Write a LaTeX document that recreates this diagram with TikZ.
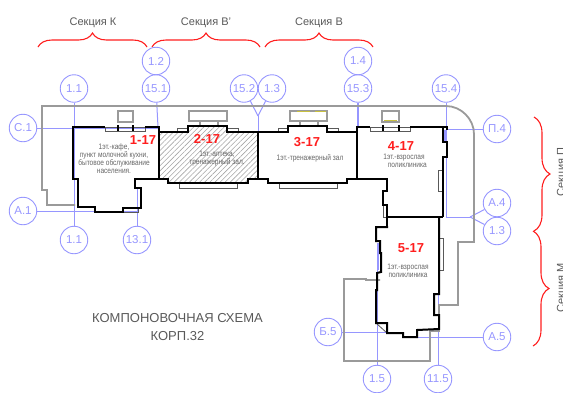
\documentclass[tikz,border=0pt]{standalone}
\usepackage{fontspec}
\setmainfont{Liberation Sans}
\usepackage{xcolor}
\usetikzlibrary{decorations.pathreplacing,patterns.meta}
\definecolor{axisblue}{HTML}{9696FF}
\definecolor{planred}{HTML}{FF1E1E}
\definecolor{plangray}{HTML}{9A9A9A}
\definecolor{roofolive}{HTML}{C8C040}

\begin{document}
\begin{tikzpicture}[
  x=1pt, y=-1pt,
  axis/.style={circle, draw=axisblue, line width=0.9pt, minimum size=27.5pt, inner sep=0pt,
               text=axisblue, font=\fontsize{11.5}{11.5}\selectfont},
  axisline/.style={draw=axisblue, line width=1pt},
  plot/.style={draw=plangray, line width=1.8pt},
  wall/.style={draw=black, line width=2pt},
  sill/.style={draw=black!65, line width=0.8pt},
  roof/.style={draw=plangray, line width=1.6pt},
  room/.style={text=planred, font=\fontsize{13}{13}\selectfont\bfseries},
  use/.style={text=black!60, align=center, xscale=0.82, transform shape,
              font=\fontsize{8}{8}\selectfont},
  section/.style={text=black!65, font=\fontsize{11}{11}\selectfont},
  sectionbrace/.style={draw=planred, line width=1.1pt, decorate}
]
\useasboundingbox (0,0) rectangle (563,392);

% Section braces and captions
\draw[sectionbrace, decoration={brace, amplitude=14pt}] (38,47) -- (147,47);
\draw[sectionbrace, decoration={brace, amplitude=14pt}] (152,47) -- (260,47);
\draw[sectionbrace, decoration={brace, amplitude=14pt}] (265,47) -- (373,47);
\draw[sectionbrace, decoration={brace, amplitude=16pt}] (534,117) -- (534,231);
\draw[sectionbrace, decoration={brace, amplitude=16pt}] (533,231) -- (533,346);
\node[section] (secK) at (93,23) {Секция К};
\node[section] (secW) at (206,23) {Секция В'};
\node[section] (secV) at (319,23) {Секция В};
\node[section, rotate=90] (secP) at (562,172) {Секция П};
\node[section, rotate=90] (secM) at (562,288) {Секция М};

% Axis bubbles
\node[axis] (c11a) at (74,88.5) {1.1};
\node[axis] (c12) at (156,61) {1.2};
\node[axis] (c151) at (156,88.5) {15.1};
\node[axis] (c152) at (244,88.5) {15.2};
\node[axis] (c13a) at (272,88.5) {1.3};
\node[axis] (c14) at (358,61) {1.4};
\node[axis] (c153) at (358,88.5) {15.3};
\node[axis] (c154) at (446,88.5) {15.4};
\node[axis] (cC1) at (23,128) {С.1};
\node[axis] (cP4) at (497,129) {П.4};
\node[axis] (cA4) at (497,203) {А.4};
\node[axis] (c13b) at (497,231) {1.3};
\node[axis] (cA1) at (23,211) {А.1};
\node[axis] (c11b) at (74,240) {1.1};
\node[axis] (c131) at (137,240) {13.1};
\node[axis] (cB5) at (328,332) {Б.5};
\node[axis] (cA5) at (497,337) {А.5};
\node[axis] (c15) at (377,379) {1.5};
\node[axis] (c115) at (438,379) {11.5};

% Axis ends
\coordinate (e151) at (158,127);
\coordinate (e153) at (358,127);
\coordinate (e154) at (446,217);
\coordinate (eC1) at (159,128);
\coordinate (eP4) at (446,129);
\coordinate (eA1) at (137,211);
\coordinate (e131) at (137,188);
\coordinate (eB5) at (388,332);
\coordinate (eA5) at (418,337);
\coordinate (e15) at (377,243);
\coordinate (e115) at (438,217);
\coordinate (jtop) at (258,116);
\coordinate (etop) at (258,179);
\coordinate (jright) at (470,217);

% Axis lines
\draw[axisline] (c11a) -- (c11b);
\draw[axisline] (c151) -- (e151);
\draw[axisline, line width=1.5pt] (c153) -- (e153);
\draw[axisline] (c154) -- (e154) -- (jright);
\draw[axisline] (c152) -- (jtop);
\draw[axisline] (c13a) -- (jtop);
\draw[axisline] (jtop) -- (etop);
\draw[axisline] (cA4) -- (jright);
\draw[axisline] (c13b) -- (jright);
\draw[axisline] (cC1) -- (eC1);
\draw[axisline] (cP4) -- (eP4);
\draw[axisline] (cA1) -- (eA1);
\draw[axisline] (c131) -- (e131);
\draw[axisline] (cB5) -- (eB5);
\draw[axisline] (cA5) -- (eA5);
\draw[axisline] (c15) -- (e15);
\draw[axisline] (c115) -- (e115);

% Plot outline
\draw[plot] (75,205) -- (47,205) -- (47,190) -- (42,190) -- (42,106) -- (446,106)
  .. controls (461,106) and (474,119) .. (474,134) -- (474,242) -- (458,242) -- (458,305) -- (439,305)
  -- (439,331) -- (430,331) -- (430,361) -- (344,361) -- (344,279) -- (366,279) -- (366,280) -- (380,280);

% Hatched block 2
\path[pattern={Lines[angle=45, distance=3.6pt, line width=0.6pt]}, pattern color=black!35]
  (158,132) -- (188,132) -- (188,126) -- (227,126) -- (227,132) -- (258,132) -- (258,179)
  -- (248,179) -- (248,183) -- (168,183) -- (168,179) -- (158,179) -- cycle;

% Roof boxes
\draw[roof] (118,111) rectangle (133,122);
\draw[roof] (189,111) rectangle (227,121);
\draw[roof, line width=1.1pt] (200,121) -- (200,126);
\draw[roof, line width=1.1pt] (218,121) -- (218,126);
\draw[roof] (290,111) rectangle (327,121);
\draw[roof, line width=1.1pt] (300,121) -- (300,126);
\draw[roof, line width=1.1pt] (318,121) -- (318,126);
\draw[roof] (382,111) rectangle (399,122);
\draw[roofolive, line width=1pt] (297,111) -- (310,111);
\draw[roofolive, line width=1pt] (315,111) -- (326,111);
\draw[roofolive, line width=1pt] (384,120) -- (397,120);

% Windows and bays
\draw[sill] (105,127) rectangle (145,131);
\draw[sill] (177,128) rectangle (188,132);
\draw[sill] (227,128) rectangle (238,132);
\draw[sill] (179,183) rectangle (237,188);
\draw[sill] (278,128) rectangle (288,132);
\draw[sill] (327,128) rectangle (338,132);
\draw[sill] (279,183) rectangle (337,188);
\draw[sill] (370,127) rectangle (410,131);
\draw[sill] (438,170) rectangle (443,191);
\draw[sill] (383,205) rectangle (387,217);
\draw[sill] (439,238) rectangle (443,270);
\draw[sill] (123,208) rectangle (138,212);
\draw[sill] (376,323) -- (387,333);
\draw[draw=axisblue, line width=1.6pt] (445,130) -- (445,141);
\draw[draw=axisblue, line width=1.6pt] (378,243) -- (378,270);

% Walls: block 1
\draw[wall] (105,127) -- (73,127) -- (73,179) -- (78,179) -- (78,207) -- (95,207) -- (95,212)
  -- (123,212) -- (123,208) -- (141,208) -- (141,188) -- (135,188) -- (135,179) -- (159,179) -- (159,127) -- (145,127);
\draw[wall] (118,125) -- (118,131);
\draw[wall] (133,125) -- (133,131);

% Walls: blocks 2 and 3
\draw[wall] (159,132) -- (188,132) -- (188,126) -- (227,126) -- (227,132) -- (288,132) -- (288,126)
  -- (327,126) -- (327,132) -- (357,132);
\draw[wall] (159,179) -- (168,179) -- (168,183) -- (248,183) -- (248,179) -- (268,179) -- (268,183)
  -- (347,183) -- (347,179) -- (357,179);
\draw[wall] (258,132) -- (258,179);

% Walls: block 4
\draw[wall] (370,127) -- (357,127) -- (357,179) -- (387,179) -- (387,191) -- (383,191) -- (383,205)
  -- (387,205) -- (387,227);
\draw[wall] (410,127) -- (447,127) -- (447,130);
\draw[wall] (443,127) -- (443,142) -- (447,142) -- (447,157) -- (443,157) -- (443,217);
\draw[wall] (382.5,125) -- (382.5,131);
\draw[wall] (398.5,125) -- (398.5,131);
\draw[wall] (387,217) -- (443,217);

% Walls: block 5
\draw[wall] (388,227) -- (376,227) -- (376,241) -- (380,241) -- (380,253) -- (381,253) -- (381,272)
  -- (377,273) -- (377,290) -- (376,290) -- (376,323) -- (387,323) -- (387,333) -- (403,333)
  -- (403,337) -- (417,337) -- (417,330) -- (439,329) -- (439,315) -- (434,315) -- (434,294)
  -- (439,294) -- (439,217);

% Block labels
\node[room] (b1) at (143,140) {1-17};
\node[room] (b2) at (207,139) {2-17};
\node[room] (b3) at (307,142) {3-17};
\node[room] (b4) at (401,146) {4-17};
\node[room] (b5) at (411,248) {5-17};
\node[use] (u1) at (114,159) {1эт.-кафе,\\пункт молочной кухни,\\бытовое обслуживание\\населения.};
\node[use] (u2) at (217,158.5) {1эт.-аптека,\\тренажерный зал.};
\node[use] (u3) at (310,158) {1эт.-тренажерный зал};
\node[use] (u4) at (404,161) {1эт.-взрослая\\\quad поликлиника};
\node[use] (u5) at (408,270.5) {1эт.-взрослая\\поликлиника};

% Title
\node[text=black!65, font=\fontsize{13}{18}\selectfont, align=center] (title) at (177.5,327)
  {КОМПОНОВОЧНАЯ СХЕМА\\КОРП.32};

\end{tikzpicture}
\end{document}
